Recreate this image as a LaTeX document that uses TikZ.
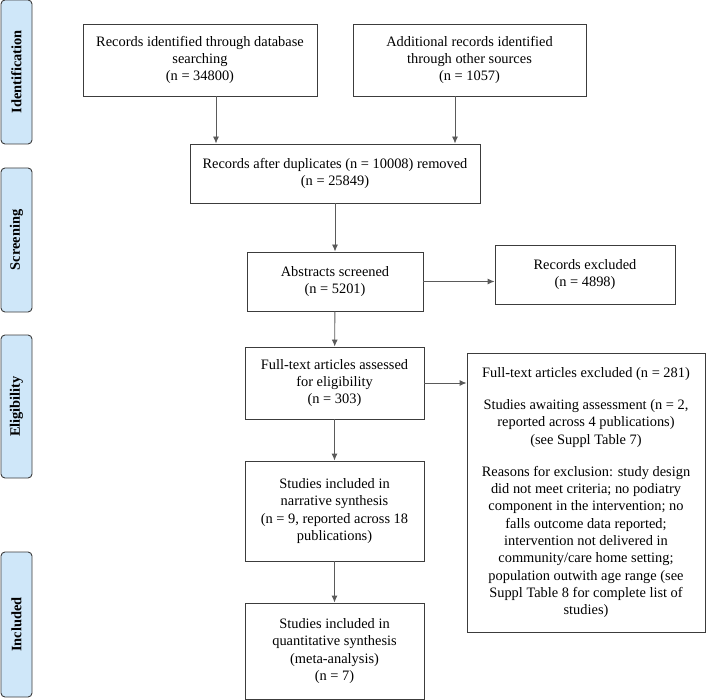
\documentclass[tikz,border=0pt]{standalone}
\usepackage{fontspec}
\setmainfont{Liberation Serif}
\usetikzlibrary{arrows.meta}
\definecolor{sidefill}{RGB}{207,231,249}
\definecolor{boxline}{RGB}{60,60,60}
\definecolor{arrline}{RGB}{90,90,90}
\tikzset{
  flowbox/.style={draw=boxline, line width=0.9pt, inner sep=0pt, align=center,
    font=\fontsize{14.4}{17.3}\selectfont},
  sidebox/.style={draw=boxline, line width=0.9pt, fill=sidefill, rounded corners=4pt,
    inner sep=0pt, minimum height=31pt, rotate=90,
    font=\fontsize{14.4}{17.3}\selectfont\bfseries},
  arr/.style={draw=arrline, line width=0.9pt, -{Latex[length=7pt,width=6pt]}}
}
\begin{document}
\begin{tikzpicture}[x=1pt,y=-1pt]
\useasboundingbox (0,0) rectangle (706,700);
% side labels
\node[sidebox, minimum width=144pt] (sid) at (16.5,72) {Identification};
\node[sidebox, minimum width=144pt] (sscr) at (16.5,240) {Screening};
\node[sidebox, minimum width=143pt] (selg) at (16.5,406.5) {Eligibility};
\node[sidebox, minimum width=145pt] (sinc) at (16.5,624.5) {Included};
% boxes
\node[flowbox, minimum width=234pt, minimum height=72pt] (b1) at (200,60)
  {Records identified through database\\searching\\(n = 34800)};
\node[flowbox, minimum width=233pt, minimum height=72pt] (b2) at (469.5,60)
  {Additional records identified\\through other sources\\(n = 1057)};
\node[flowbox, minimum width=290pt, minimum height=59pt] (b3) at (335,173.5)
  {Records after duplicates (n = 10008) removed\\(n = 25849)};
\node[flowbox, minimum width=176pt, minimum height=59pt] (b4) at (335,281.5)
  {Abstracts screened\\(n = 5201)};
\node[flowbox, minimum width=180pt, minimum height=59pt] (e1) at (585,274.5)
  {Records excluded\\(n = 4898)};
\node[flowbox, minimum width=179pt, minimum height=72pt] (b5) at (334.5,383)
  {Full-text articles assessed\\for eligibility\\(n = 303)};
\node[flowbox, minimum width=238pt, minimum height=279pt] (e2) at (586,492.5)
  {Full-text articles excluded (n = 281)\\[15pt]
   Studies awaiting assessment (n = 2,\\reported across 4 publications)\\(see Suppl Table 7)\\[15pt]
   Reasons for exclusion: study design\\did not meet criteria; no podiatry\\component in the intervention; no\\falls outcome data reported;\\intervention not delivered in\\community/care home setting;\\population outwith age range (see\\Suppl Table 8 for complete list of\\studies)};
\node[flowbox, minimum width=179pt, minimum height=100pt] (b6) at (334.5,511)
  {Studies included in\\narrative synthesis\\(n = 9, reported across 18\\publications)};
\node[flowbox, minimum width=179pt, minimum height=96pt] (b7) at (334.5,651)
  {Studies included in\\quantitative synthesis\\(meta-analysis)\\(n = 7)};
% arrow guides
\coordinate (g1) at (216,0);
\coordinate (g2) at (455,0);
% connectors
\draw[arr] (b1.south -| g1) -- (b3.north -| g1);
\draw[arr] (b2.south -| g2) -- (b3.north -| g2);
\draw[arr] (b3) -- (b4);
\draw[arr] (b4.east) -- (b4.east -| e1.west);
\draw[arr] (b4) -- (b5);
\draw[arr] (b5.east) -- (b5.east -| e2.west);
\draw[arr] (b5) -- (b6);
\draw[arr] (b6) -- (b7);
\end{tikzpicture}
\end{document}
